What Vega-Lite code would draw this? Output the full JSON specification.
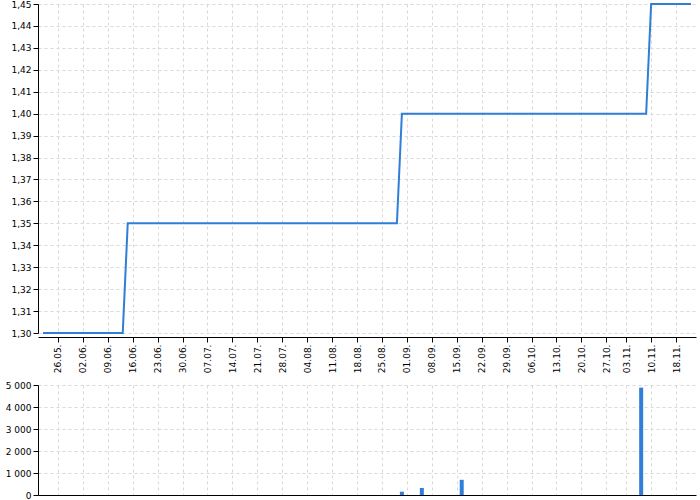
{
  "$schema": "https://vega.github.io/schema/vega-lite/v6.json",
  "padding": {"left": 5, "top": 0, "right": 3, "bottom": 5},
  "background": "white",
  "data": {"values": [
    {"d":"21.05.","p":1.30,"v":0},{"d":"22.05.","p":1.30,"v":0},{"d":"23.05.","p":1.30,"v":0},
    {"d":"26.05.","p":1.30,"v":0},{"d":"27.05.","p":1.30,"v":0},{"d":"28.05.","p":1.30,"v":0},{"d":"29.05.","p":1.30,"v":0},{"d":"30.05.","p":1.30,"v":0},
    {"d":"02.06.","p":1.30,"v":0},{"d":"03.06.","p":1.30,"v":0},{"d":"04.06.","p":1.30,"v":0},{"d":"05.06.","p":1.30,"v":0},{"d":"06.06.","p":1.30,"v":0},
    {"d":"09.06.","p":1.30,"v":0},{"d":"10.06.","p":1.30,"v":0},{"d":"11.06.","p":1.30,"v":0},{"d":"12.06.","p":1.30,"v":0},{"d":"13.06.","p":1.35,"v":0},
    {"d":"16.06.","p":1.35,"v":0},{"d":"17.06.","p":1.35,"v":0},{"d":"18.06.","p":1.35,"v":0},{"d":"19.06.","p":1.35,"v":0},{"d":"20.06.","p":1.35,"v":0},
    {"d":"23.06.","p":1.35,"v":0},{"d":"24.06.","p":1.35,"v":0},{"d":"25.06.","p":1.35,"v":0},{"d":"26.06.","p":1.35,"v":0},{"d":"27.06.","p":1.35,"v":0},
    {"d":"30.06.","p":1.35,"v":0},{"d":"01.07.","p":1.35,"v":0},{"d":"02.07.","p":1.35,"v":0},{"d":"03.07.","p":1.35,"v":0},{"d":"04.07.","p":1.35,"v":0},
    {"d":"07.07.","p":1.35,"v":0},{"d":"08.07.","p":1.35,"v":0},{"d":"09.07.","p":1.35,"v":0},{"d":"10.07.","p":1.35,"v":0},{"d":"11.07.","p":1.35,"v":0},
    {"d":"14.07.","p":1.35,"v":0},{"d":"15.07.","p":1.35,"v":0},{"d":"16.07.","p":1.35,"v":0},{"d":"17.07.","p":1.35,"v":0},{"d":"18.07.","p":1.35,"v":0},
    {"d":"21.07.","p":1.35,"v":0},{"d":"22.07.","p":1.35,"v":0},{"d":"23.07.","p":1.35,"v":0},{"d":"24.07.","p":1.35,"v":0},{"d":"25.07.","p":1.35,"v":0},
    {"d":"28.07.","p":1.35,"v":0},{"d":"29.07.","p":1.35,"v":0},{"d":"30.07.","p":1.35,"v":0},{"d":"31.07.","p":1.35,"v":0},{"d":"01.08.","p":1.35,"v":0},
    {"d":"04.08.","p":1.35,"v":0},{"d":"05.08.","p":1.35,"v":0},{"d":"06.08.","p":1.35,"v":0},{"d":"07.08.","p":1.35,"v":0},{"d":"08.08.","p":1.35,"v":0},
    {"d":"11.08.","p":1.35,"v":0},{"d":"12.08.","p":1.35,"v":0},{"d":"13.08.","p":1.35,"v":0},{"d":"14.08.","p":1.35,"v":0},{"d":"15.08.","p":1.35,"v":0},
    {"d":"18.08.","p":1.35,"v":0},{"d":"19.08.","p":1.35,"v":0},{"d":"20.08.","p":1.35,"v":0},{"d":"21.08.","p":1.35,"v":0},{"d":"22.08.","p":1.35,"v":0},
    {"d":"25.08.","p":1.35,"v":0},{"d":"26.08.","p":1.35,"v":0},{"d":"27.08.","p":1.35,"v":0},{"d":"28.08.","p":1.35,"v":0},{"d":"29.08.","p":1.40,"v":150},
    {"d":"01.09.","p":1.40,"v":0},{"d":"02.09.","p":1.40,"v":0},{"d":"03.09.","p":1.40,"v":0},{"d":"04.09.","p":1.40,"v":320},{"d":"05.09.","p":1.40,"v":0},
    {"d":"08.09.","p":1.40,"v":0},{"d":"09.09.","p":1.40,"v":0},{"d":"10.09.","p":1.40,"v":0},{"d":"11.09.","p":1.40,"v":0},{"d":"12.09.","p":1.40,"v":0},
    {"d":"15.09.","p":1.40,"v":0},{"d":"16.09.","p":1.40,"v":690},{"d":"17.09.","p":1.40,"v":0},{"d":"18.09.","p":1.40,"v":0},{"d":"19.09.","p":1.40,"v":0},
    {"d":"22.09.","p":1.40,"v":0},{"d":"23.09.","p":1.40,"v":0},{"d":"24.09.","p":1.40,"v":0},{"d":"25.09.","p":1.40,"v":0},{"d":"26.09.","p":1.40,"v":0},
    {"d":"29.09.","p":1.40,"v":0},{"d":"30.09.","p":1.40,"v":0},{"d":"01.10.","p":1.40,"v":0},{"d":"02.10.","p":1.40,"v":0},{"d":"03.10.","p":1.40,"v":0},
    {"d":"06.10.","p":1.40,"v":0},{"d":"07.10.","p":1.40,"v":0},{"d":"08.10.","p":1.40,"v":0},{"d":"09.10.","p":1.40,"v":0},{"d":"10.10.","p":1.40,"v":0},
    {"d":"13.10.","p":1.40,"v":0},{"d":"14.10.","p":1.40,"v":0},{"d":"15.10.","p":1.40,"v":0},{"d":"16.10.","p":1.40,"v":0},{"d":"17.10.","p":1.40,"v":0},
    {"d":"20.10.","p":1.40,"v":0},{"d":"21.10.","p":1.40,"v":0},{"d":"22.10.","p":1.40,"v":0},{"d":"23.10.","p":1.40,"v":0},{"d":"24.10.","p":1.40,"v":0},
    {"d":"27.10.","p":1.40,"v":0},{"d":"29.10.","p":1.40,"v":0},{"d":"30.10.","p":1.40,"v":0},{"d":"31.10.","p":1.40,"v":0},
    {"d":"03.11.","p":1.40,"v":0},{"d":"04.11.","p":1.40,"v":0},{"d":"05.11.","p":1.40,"v":0},{"d":"06.11.","p":1.40,"v":4880},{"d":"07.11.","p":1.40,"v":0},
    {"d":"10.11.","p":1.45,"v":0},{"d":"11.11.","p":1.45,"v":0},{"d":"12.11.","p":1.45,"v":0},{"d":"13.11.","p":1.45,"v":0},{"d":"14.11.","p":1.45,"v":0},
    {"d":"18.11.","p":1.45,"v":0},{"d":"19.11.","p":1.45,"v":0},{"d":"20.11.","p":1.45,"v":0},{"d":"21.11.","p":1.45,"v":0}
  ]},
  "spacing": 8,
  "vconcat": [
    {
      "width": 658,
      "height": 329,
      "mark": {"type": "line", "color": "#2f7ed8", "strokeWidth": 2},
      "encoding": {
        "x": {"field": "d", "type": "ordinal", "sort": null,
          "scale": {"type": "point", "padding": 1.2},
          "axis": {"title": null, "labelAngle": -90, "offset": 4, "grid": true,
            "values": ["26.05.","02.06.","09.06.","16.06.","23.06.","30.06.","07.07.","14.07.","21.07.","28.07.","04.08.","11.08.","18.08.","25.08.","01.09.","08.09.","15.09.","22.09.","29.09.","06.10.","13.10.","20.10.","27.10.","03.11.","10.11.","18.11."]}},
        "y": {"field": "p", "type": "quantitative",
          "scale": {"domain": [1.30, 1.45], "nice": false, "zero": false},
          "axis": {"title": null, "values": [1.30,1.31,1.32,1.33,1.34,1.35,1.36,1.37,1.38,1.39,1.40,1.41,1.42,1.43,1.44,1.45],
            "labelExpr": "replace(format(datum.value, '.2f'), '.', ',')"}}
      }
    },
    {
      "width": 658,
      "height": 110,
      "mark": {"type": "bar", "color": "#2f7ed8", "size": 4},
      "encoding": {
        "x": {"field": "d", "type": "ordinal", "sort": null,
          "scale": {"type": "point", "padding": 1.2},
          "axis": {"title": null, "labels": false, "ticks": false, "grid": true,
            "values": ["26.05.","02.06.","09.06.","16.06.","23.06.","30.06.","07.07.","14.07.","21.07.","28.07.","04.08.","11.08.","18.08.","25.08.","01.09.","08.09.","15.09.","22.09.","29.09.","06.10.","13.10.","20.10.","27.10.","03.11.","10.11.","18.11."]}},
        "y": {"field": "v", "type": "quantitative",
          "scale": {"domain": [0, 5000], "nice": false},
          "axis": {"title": null, "values": [0,1000,2000,3000,4000,5000],
            "labelExpr": "replace(format(datum.value, ','), ',', ' ')"}}
      }
    }
  ],
  "config": {
    "view": {"stroke": null},
    "axis": {
      "labelFont": "DejaVu Sans", "labelFontSize": 9, "labelColor": "#000000",
      "domainColor": "#000000", "tickColor": "#000000", "tickSize": 5, "labelPadding": 2,
      "gridColor": "#d8d8d8", "gridDash": [3, 3], "gridWidth": 1
    }
  }
}
